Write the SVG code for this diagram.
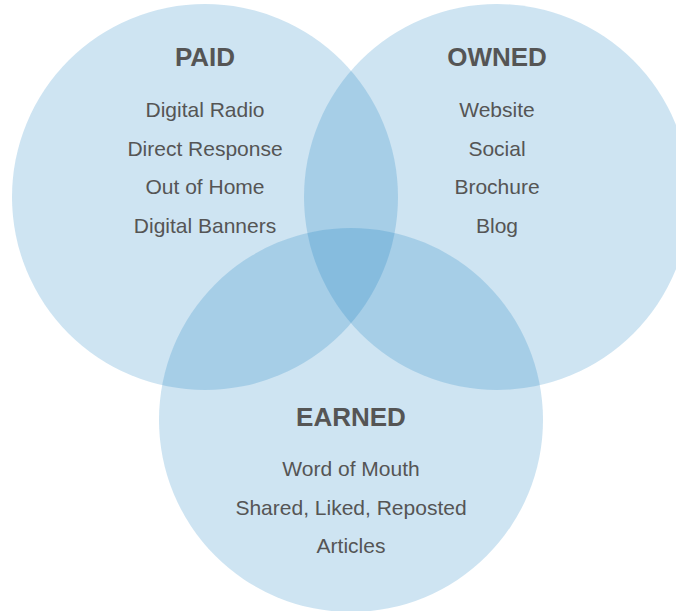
<svg xmlns="http://www.w3.org/2000/svg" width="676" height="611" viewBox="0 0 676 611">
  <style>
    .c { fill: #0a78be; fill-opacity: 0.2; }
    text { font-family: "Liberation Sans", Arial, sans-serif; fill: #555; text-anchor: middle; }
    .t { font-size: 26px; font-weight: bold; }
    .i { font-size: 21px; }
  </style>
  <rect width="676" height="611" fill="#fff"/>
  <g id="paid">
    <circle class="c" cx="205" cy="197" r="193"/>
  </g>
  <g id="owned">
    <circle class="c" cx="497" cy="197" r="193"/>
  </g>
  <g id="earned">
    <circle class="c" cx="351" cy="420" r="192"/>
  </g>
  <g id="paid-text">
    <text class="t" x="205" y="66">PAID</text>
    <text class="i" x="205" y="117">Digital Radio</text>
    <text class="i" x="205" y="156">Direct Response</text>
    <text class="i" x="205" y="194">Out of Home</text>
    <text class="i" x="205" y="233">Digital Banners</text>
  </g>
  <g id="owned-text">
    <text class="t" x="497" y="66">OWNED</text>
    <text class="i" x="497" y="117">Website</text>
    <text class="i" x="497" y="156">Social</text>
    <text class="i" x="497" y="194">Brochure</text>
    <text class="i" x="497" y="233">Blog</text>
  </g>
  <g id="earned-text">
    <text class="t" x="351" y="426">EARNED</text>
    <text class="i" x="351" y="476">Word of Mouth</text>
    <text class="i" x="351" y="515">Shared, Liked, Reposted</text>
    <text class="i" x="351" y="553">Articles</text>
  </g>
  <g id="connectors"/>
</svg>
